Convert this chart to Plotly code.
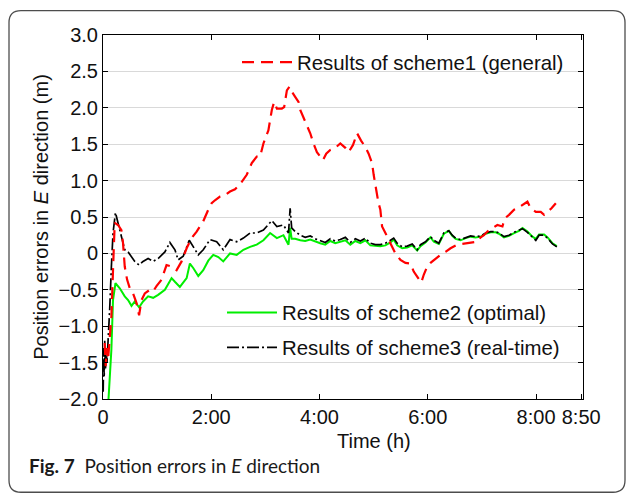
import plotly.graph_objects as go

# ---- data: time in minutes since start, position error in metres ----
t_s1 = [1.9, 3.0, 4.1, 5.6, 9.3, 11.1, 11.9, 13.0, 16.7, 20.4, 22.2, 24.1, 26.7, 29.7,
        33.3, 37.1, 40.0, 42.7, 46.3, 51.9, 55.6, 59.3, 64.9, 70.4, 76.0, 81.6, 87.1,
        92.7, 98.2, 103.8, 111.1, 116.7, 120.4, 124.1, 129.7, 135.2, 140.8, 146.3,
        151.9, 159.3, 164.9, 170.4, 174.1, 177.8, 183.3, 187.1, 189.7, 192.7, 198.2,
        200.8, 203.8, 206.7, 209.3, 213.0, 216.7, 218.6, 222.2, 226.0, 229.7, 233.3,
        237.1, 240.8, 243.8, 247.4, 251.9, 257.4, 263.0, 268.6, 272.2, 277.1, 281.6,
        286.0, 290.8, 294.4, 298.2, 300.0, 303.0, 305.2, 307.4, 309.3, 313.0, 318.6,
        324.1, 329.7, 335.2, 340.8, 344.4, 348.2, 352.7, 355.6, 359.3, 363.0, 368.6,
        374.1, 379.6, 385.2, 392.7, 400.0, 407.4, 414.9, 418.6, 422.2, 426.0, 431.6,
        437.1, 442.7, 445.2, 450.0, 455.6, 459.3, 464.9, 470.4, 474.1, 479.7, 485.2,
        488.9, 492.7, 497.1, 501.9]
e_s1 = [-1.23, -1.55, -1.30, -1.46, -0.87, -0.36, 0.05, 0.42, 0.39, 0.32, 0.14, -0.18,
        -0.36, -0.48, -0.55, -0.68, -0.85, -0.64, -0.55, -0.50, -0.52, -0.45, -0.36,
        -0.16, -0.18, -0.23, -0.11, 0.07, 0.21, 0.30, 0.44, 0.60, 0.69, 0.73, 0.78,
        0.80, 0.85, 0.88, 0.95, 1.08, 1.24, 1.33, 1.33, 1.51, 1.69, 1.97, 2.08, 1.99,
        1.99, 2.01, 2.24, 2.29, 2.22, 2.15, 2.08, 1.97, 1.87, 1.76, 1.65, 1.51, 1.39,
        1.33, 1.28, 1.37, 1.42, 1.45, 1.51, 1.45, 1.39, 1.49, 1.65, 1.55, 1.46, 1.37,
        1.24, 1.08, 0.85, 0.70, 0.60, 0.37, 0.28, 0.14, 0.00, -0.09, -0.13, -0.14,
        -0.25, -0.32, -0.40, -0.29, -0.18, -0.13, -0.07, -0.02, 0.02, 0.07, 0.12, 0.13,
        0.14, 0.16, 0.22, 0.25, 0.30, 0.34, 0.39, 0.37, 0.48, 0.53, 0.60, 0.62, 0.66,
        0.71, 0.62, 0.57, 0.57, 0.53, 0.57, 0.62, 0.69]

t_s2 = [4.7, 9.3, 11.1, 13.8, 18.6, 24.1, 27.8, 31.6, 35.2, 40.0, 44.4, 50.0, 55.6,
        61.1, 68.6, 76.0, 79.7, 85.2, 92.7, 96.3, 100.0, 105.6, 111.1, 116.7, 122.2,
        127.8, 133.3, 140.8, 148.2, 155.6, 163.0, 170.4, 177.8, 185.2, 192.7, 200.0,
        205.6, 207.4, 209.1, 213.0, 218.6, 224.1, 229.7, 235.2, 240.8, 246.3, 251.9,
        257.4, 263.0, 268.6, 274.1, 279.7, 285.2, 290.8, 296.3, 301.9, 307.4, 313.0,
        318.6, 322.2, 326.0, 331.6, 337.1, 342.7, 348.2, 351.9, 357.4, 363.0, 366.7,
        372.2, 377.8, 383.3, 387.1, 390.8, 396.3, 401.9, 407.4, 413.0, 418.6, 424.1,
        429.7, 435.2, 438.9, 444.4, 450.0, 455.6, 461.1, 464.9, 470.4, 476.0, 479.7,
        483.3, 488.9, 492.7, 498.2, 503.0]
e_s2 = [-2.30, -1.32, -0.64, -0.41, -0.48, -0.59, -0.64, -0.72, -0.66, -0.74, -0.66,
        -0.59, -0.61, -0.57, -0.50, -0.34, -0.39, -0.46, -0.34, -0.14, -0.20, -0.31,
        -0.23, -0.10, -0.02, -0.05, -0.11, 0.00, -0.02, 0.05, 0.09, 0.12, 0.18, 0.28,
        0.21, 0.25, 0.12, 0.35, 0.20, 0.20, 0.18, 0.17, 0.19, 0.16, 0.14, 0.12, 0.17,
        0.14, 0.16, 0.18, 0.12, 0.17, 0.14, 0.18, 0.11, 0.10, 0.10, 0.11, 0.15, 0.19,
        0.11, 0.07, 0.08, 0.11, 0.04, 0.10, 0.15, 0.22, 0.16, 0.13, 0.27, 0.31, 0.24,
        0.20, 0.18, 0.21, 0.23, 0.22, 0.23, 0.27, 0.29, 0.29, 0.27, 0.22, 0.24, 0.28,
        0.31, 0.35, 0.30, 0.23, 0.20, 0.26, 0.26, 0.22, 0.14, 0.10]

t_s3 = [0.2, 0.8, 1.3, 1.9, 2.7, 3.6, 4.4, 5.6, 7.4, 9.3, 11.1, 13.8, 16.7, 20.4,
        24.1, 27.8, 31.6, 35.2, 40.0, 44.4, 50.0, 55.6, 61.1, 68.6, 74.1, 79.7, 83.3,
        88.9, 95.6, 100.0, 105.6, 111.1, 118.6, 126.0, 133.3, 140.8, 148.2, 155.6,
        163.0, 170.4, 177.8, 187.1, 192.7, 200.0, 205.6, 207.4, 209.1, 213.0, 218.6,
        224.1, 229.7, 235.2, 240.8, 246.3, 251.9, 257.4, 263.0, 268.6, 274.1, 279.7,
        285.2, 290.8, 296.3, 301.9, 307.4, 313.0, 318.6, 322.2, 326.0, 331.6, 337.1,
        342.7, 348.2, 351.9, 357.4, 363.0, 366.7, 372.2, 377.8, 383.3, 387.1, 390.8,
        396.3, 401.9, 407.4, 413.0, 418.6, 424.1, 429.7, 435.2, 438.9, 444.4, 450.0,
        455.6, 461.1, 464.9, 470.4, 476.0, 479.7, 483.3, 488.9, 492.7, 498.2, 503.0]
e_s3 = [-1.90, -1.30, -1.70, -1.20, -1.60, -1.35, -1.50, -1.25, -0.77, -0.18, 0.28,
        0.56, 0.41, 0.23, 0.05, 0.02, -0.04, -0.11, -0.16, -0.11, -0.07, -0.11, -0.07,
        0.02, 0.15, 0.05, -0.09, -0.04, 0.18, 0.09, -0.02, 0.05, 0.19, 0.16, 0.05, 0.19,
        0.16, 0.21, 0.28, 0.28, 0.32, 0.45, 0.37, 0.39, 0.28, 0.62, 0.35, 0.30, 0.25,
        0.22, 0.24, 0.20, 0.18, 0.15, 0.20, 0.17, 0.19, 0.22, 0.15, 0.20, 0.17, 0.21,
        0.14, 0.12, 0.12, 0.14, 0.18, 0.21, 0.14, 0.09, 0.10, 0.13, 0.05, 0.12, 0.16,
        0.23, 0.18, 0.14, 0.28, 0.31, 0.25, 0.21, 0.19, 0.22, 0.24, 0.23, 0.24, 0.28,
        0.30, 0.30, 0.28, 0.23, 0.25, 0.29, 0.32, 0.34, 0.29, 0.22, 0.18, 0.25, 0.25,
        0.21, 0.13, 0.09]

x_tickvals = [0, 120, 240, 360, 480, 530]
x_ticktext = ["0", "2:00", "4:00", "6:00", "8:00", "8:50"]
y_tickvals = [3.0, 2.5, 2.0, 1.5, 1.0, 0.5, 0.0, -0.5, -1.0, -1.5, -2.0]
y_ticktext = ["3.0", "2.5", "2.0", "1.5", "1.0", "0.5", "0", "\u22120.5", "\u22121.0",
              "\u22121.5", "\u22122.0"]

# ---- page geometry (pixels) ----
W, H = 627, 494
PL, PR, PT, PB = 103, 583, 34.5, 399.5


def paper(px, py):
    return (px - PL) / (PR - PL), (PB - py) / (PB - PT)


FONT = "Liberation Sans"

fig = go.Figure()
fig.add_trace(go.Scatter(x=t_s2, y=e_s2, mode="lines", name="Results of scheme2 (optimal)",
                         line=dict(color="#00ee00", width=2), legend="legend2"))
fig.add_trace(go.Scatter(x=t_s3, y=e_s3, mode="lines", name="Results of scheme3 (real-time)",
                         line=dict(color="#000000", width=1.7, dash="12px,3px,2px,3px"),
                         legend="legend3"))
fig.add_trace(go.Scatter(x=t_s1, y=e_s1, mode="lines", name="Results of scheme1 (general)",
                         line=dict(color="#ff0000", width=2.2, dash="12px,7px"),
                         legend="legend", showlegend=True))

# rounded frame around the whole figure
L, T, R, B, r = 9, 10, 625, 493, 12
pts = {
    "a": paper(L + r, T), "b": paper(R - r, T), "c": paper(R, T), "d": paper(R, T + r),
    "e": paper(R, B - r), "f": paper(R, B), "g": paper(R - r, B), "h": paper(L + r, B),
    "i": paper(L, B), "j": paper(L, B - r), "k": paper(L, T + r), "l": paper(L, T),
}
f = lambda p: f"{p[0]:.5f},{p[1]:.5f}"
frame_path = (f"M{f(pts['a'])} L{f(pts['b'])} Q{f(pts['c'])} {f(pts['d'])} "
              f"L{f(pts['e'])} Q{f(pts['f'])} {f(pts['g'])} L{f(pts['h'])} "
              f"Q{f(pts['i'])} {f(pts['j'])} L{f(pts['k'])} Q{f(pts['l'])} {f(pts['a'])} Z")
fig.add_shape(type="path", path=frame_path, xref="paper", yref="paper",
              line=dict(color="#4d4d4d", width=1.3), layer="below")

lx1, ly1 = paper(237, 62)
lx2, ly2 = paper(222, 313)
lx3, ly3 = paper(222, 348)
leg_common = dict(bgcolor="rgba(0,0,0,0)", borderwidth=0, itemwidth=50,
                  font=dict(family=FONT, size=20.4, color="#111111"),
                  xanchor="left", yanchor="middle", visible=True)

tx, ty = paper(374, 442)
cx, cy = paper(27, 466)

fig.update_layout(
    width=W, height=H,
    showlegend=True,
    margin=dict(l=PL, r=W - PR, t=PT, b=H - PB, autoexpand=False),
    paper_bgcolor="white", plot_bgcolor="white",
    font=dict(family=FONT, size=20, color="#111111"),
    legend=dict(x=lx1, y=ly1, **leg_common),
    legend2=dict(x=lx2, y=ly2, **leg_common),
    legend3=dict(x=lx3, y=ly3, **leg_common),
    xaxis=dict(range=[0, 532], tickvals=x_tickvals, ticktext=x_ticktext,
               showgrid=False, zeroline=False, showline=True, linecolor="black",
               linewidth=1, mirror="ticks", ticks="inside", ticklen=5,
               tickcolor="black", tickfont=dict(family=FONT, size=20)),
    yaxis=dict(range=[-2, 3], tickvals=y_tickvals, ticktext=y_ticktext,
               showgrid=True, gridcolor="#d9d9d9", gridwidth=1, zeroline=False,
               showline=True, linecolor="black", linewidth=1, mirror="ticks",
               ticks="inside", ticklen=5, tickcolor="black",
               tickfont=dict(family=FONT, size=20),
               title=dict(text="Position errors in <i>E</i> direction (m)",
                          font=dict(family=FONT, size=20), standoff=4)),
    annotations=[
        dict(text="Time (h)", x=tx, y=ty, xref="paper", yref="paper",
             xanchor="center", yanchor="middle", showarrow=False,
             font=dict(family=FONT, size=20, color="#111111")),
        dict(text="<b>Fig. 7</b>  Position errors in <i>E</i> direction",
             x=cx, y=cy, xref="paper", yref="paper", xanchor="left",
             yanchor="middle", showarrow=False,
             font=dict(family="Lato", size=19, color="#1a1a1a")),
    ],
)

fig.write_html("out.html")
